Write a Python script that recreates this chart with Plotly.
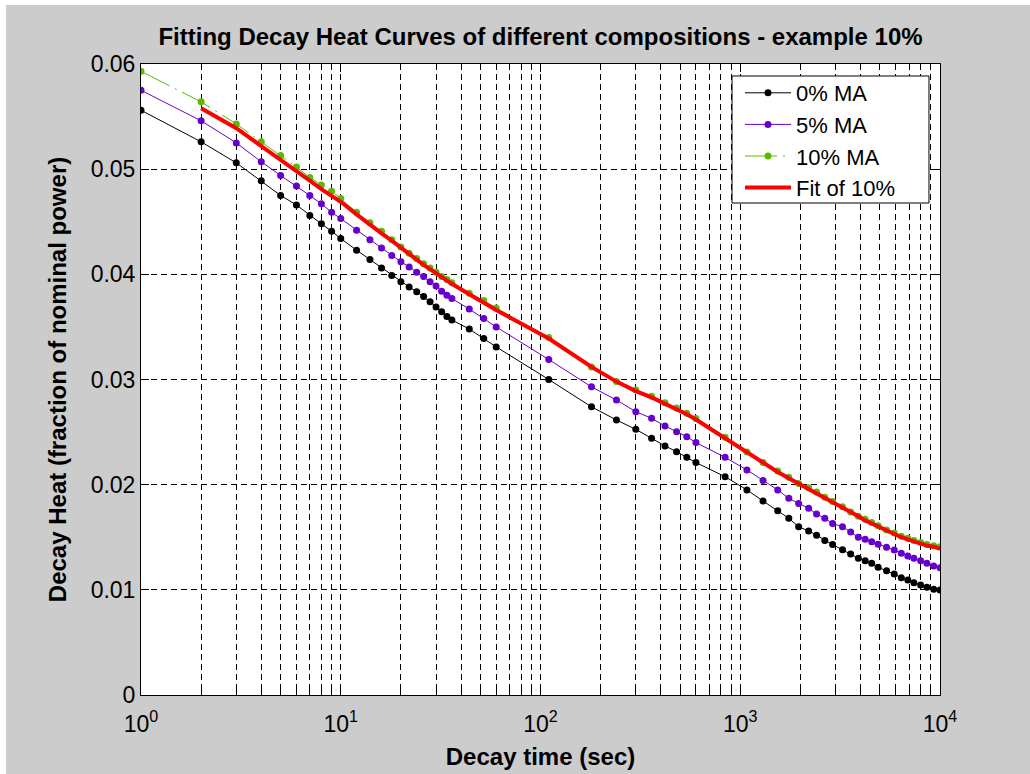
import plotly.graph_objects as go

# Decay times (s) shared by all three compositions
decay_time = [1, 2, 3, 4, 5, 6, 7, 8, 9, 10,
              12, 14, 16, 18, 20, 22, 24, 26, 28, 30, 32, 34, 36,
              44, 52, 60, 110,
              180, 240, 300, 360, 420, 480, 540, 600,
              840, 1080, 1300, 1540, 1750, 1960, 2200, 2410, 2650, 2900,
              3250, 3570, 3900, 4220, 4550, 4900, 5400, 5900, 6400, 6900,
              7400, 8000, 8600, 9300, 10000]

# Decay heat, fraction of nominal power
heat_0ma = [0.0556, 0.0526, 0.0506, 0.0489, 0.0475, 0.0466, 0.0456, 0.0448, 0.0441, 0.0434,
            0.0423, 0.0414, 0.0406, 0.0399, 0.0393, 0.0388, 0.03835, 0.0379, 0.0374, 0.0369,
            0.03645, 0.0360, 0.03566,
            0.0348, 0.0339, 0.0331, 0.0300,
            0.0274, 0.02615, 0.02526, 0.02441, 0.02368, 0.02314, 0.0226, 0.0221,
            0.02076, 0.0195, 0.01845, 0.01752, 0.0168, 0.0160, 0.0156, 0.0152, 0.0147, 0.0143,
            0.0138, 0.0134, 0.0130, 0.01277, 0.01252, 0.01214, 0.01182, 0.0115, 0.01115, 0.01093,
            0.01068, 0.01046, 0.01024, 0.01005, 0.00998]

heat_5ma = [0.0575, 0.0546, 0.0525, 0.0507, 0.0494, 0.0484, 0.0475, 0.0467, 0.0459, 0.0453,
            0.0442, 0.0433, 0.0425, 0.0418, 0.0412, 0.0407, 0.0402, 0.0398, 0.0393, 0.0389,
            0.0384, 0.0380, 0.0377,
            0.0367, 0.0358, 0.0350, 0.0319,
            0.0293, 0.02805, 0.02694, 0.02631, 0.02558, 0.02504, 0.02456, 0.0240,
            0.0226, 0.0214, 0.0204, 0.0195, 0.0187, 0.0182, 0.01775, 0.0172, 0.0168, 0.0163,
            0.0160, 0.0155, 0.0150, 0.0148, 0.01458, 0.01433, 0.01404, 0.01379, 0.01347, 0.01322,
            0.0130, 0.01277, 0.01252, 0.01227, 0.0121]

heat_10ma = [0.0593, 0.0564, 0.0543, 0.0526, 0.0513, 0.0502, 0.0492, 0.0485, 0.0479, 0.0472,
             0.0459, 0.0449, 0.0441, 0.0433, 0.0426, 0.0420, 0.0415, 0.0410, 0.0406, 0.0402,
             0.0398, 0.0395, 0.0392,
             0.0382, 0.0375, 0.0368, 0.0340,
             0.0312, 0.0298, 0.0290, 0.0284, 0.0278, 0.0273, 0.0268, 0.0263,
             0.0245, 0.0231, 0.0221, 0.0213, 0.0207, 0.0201, 0.0197, 0.0193, 0.0188, 0.0184,
             0.0179, 0.0174, 0.0170, 0.0167, 0.0164, 0.0161, 0.0157, 0.0154, 0.0151, 0.0149,
             0.0147, 0.0145, 0.0143, 0.0142, 0.0141]

# Fitted curve for the 10% composition (from t = 2 s onward)
fit_time = decay_time[1:]
fit_10ma = [0.0558, 0.0539, 0.0522, 0.0509, 0.0499, 0.0489, 0.0481, 0.0475, 0.0469,
            0.0457, 0.0447, 0.0439, 0.0432, 0.0425, 0.0419, 0.0414, 0.0409, 0.0405, 0.0401,
            0.0397, 0.0394, 0.0391,
            0.0381, 0.0373, 0.0366, 0.0339,
            0.0312, 0.0298, 0.0289, 0.0283, 0.0277, 0.0272, 0.0267, 0.0262,
            0.0244, 0.0230, 0.0220, 0.0212, 0.0206, 0.0201, 0.0196, 0.0192, 0.0188, 0.0184,
            0.0178, 0.0174, 0.0170, 0.0166, 0.0163, 0.0160, 0.0156, 0.0153, 0.0150, 0.0148,
            0.0146, 0.0144, 0.0142, 0.0141, 0.0139]

x_major = [1, 10, 100, 1000, 10000]
x_major_text = ["10<sup>0</sup>", "10<sup>1</sup>", "10<sup>2</sup>", "10<sup>3</sup>", "10<sup>4</sup>"]
x_minor = [m * d for d in (1, 10, 100, 1000) for m in range(2, 10)]
y_ticks = [0, 0.01, 0.02, 0.03, 0.04, 0.05, 0.06]
y_tick_text = ["0", "0.01", "0.02", "0.03", "0.04", "0.05", "0.06"]

FONT = "Liberation Sans, Arial, Helvetica, sans-serif"
GRID_DASH = "6px,4px"

fig = go.Figure()
fig.add_trace(go.Scatter(x=decay_time, y=heat_0ma, name="0% MA", mode="lines+markers",
                         line=dict(color="black", width=1),
                         marker=dict(color="black", size=7)))
fig.add_trace(go.Scatter(x=decay_time, y=heat_5ma, name="5% MA", mode="lines+markers",
                         line=dict(color="#6600CC", width=1),
                         marker=dict(color="#6600CC", size=7)))
fig.add_trace(go.Scatter(x=decay_time, y=heat_10ma, name="10% MA", mode="lines+markers",
                         line=dict(color="#5CB800", width=1, dash="32px,6px,2px,6px"),
                         marker=dict(color="#5CB800", size=7)))
fig.add_trace(go.Scatter(x=fit_time, y=fit_10ma, name="Fit of 10%", mode="lines",
                         line=dict(color="#FF0000", width=4)))

axis_common = dict(
    showline=True, linecolor="black", linewidth=1, mirror="ticks",
    ticks="inside", ticklen=8, tickwidth=1, tickcolor="black",
    showgrid=True, gridcolor="black", gridwidth=1, griddash=GRID_DASH,
    zeroline=False, automargin=False,
    tickfont=dict(family=FONT, size=23, color="black"),
)

fig.update_xaxes(
    type="log", range=[0, 4],
    tickmode="array", tickvals=x_major, ticktext=x_major_text,
    ticklabelstandoff=8,
    minor=dict(tickmode="array", tickvals=x_minor, ticks="inside", ticklen=5,
               tickcolor="black", showgrid=True, gridcolor="black", gridwidth=1,
               griddash=GRID_DASH),
    title=dict(text="Decay time (sec)", standoff=12,
               font=dict(family=FONT, size=24, color="black", weight="bold")),
    **axis_common,
)
fig.update_yaxes(
    range=[0, 0.06],
    tickmode="array", tickvals=y_ticks, ticktext=y_tick_text,
    title=dict(text="Decay Heat (fraction of nominal power)", standoff=17,
               font=dict(family=FONT, size=24, color="black", weight="bold")),
    **axis_common,
)

# Figure frame: light border at top and left, legend box
fig.add_shape(type="rect", xref="paper", yref="paper", x0=-0.3, x1=1.3, y0=1.0935, y1=1.3,
              fillcolor="white", line=dict(width=0), layer="below")
fig.add_shape(type="rect", xref="paper", yref="paper", x0=-0.3, x1=-0.169, y0=-0.3, y1=1.3,
              fillcolor="white", line=dict(width=0), layer="below")
fig.add_shape(type="rect", xref="paper", yref="paper", x0=0.7397, x1=0.9862, y0=0.7797, y1=0.981,
              fillcolor="white", line=dict(color="black", width=1), layer="above")

fig.update_layout(
    width=1030, height=774,
    margin=dict(l=141, r=90, t=64, b=79, pad=0, autoexpand=False),
    paper_bgcolor="#CCCCCC", plot_bgcolor="white",
    title=dict(text="Fitting Decay Heat Curves of different compositions - example 10%",
               x=0.5, xref="paper", xanchor="center",
               y=(774 - 37) / 774, yref="container", yanchor="middle",
               font=dict(family=FONT, size=24, color="black", weight="bold")),
    legend=dict(x=(740 - 141) / 799, y=(695 - 72) / 631, xanchor="left", yanchor="top",
                bgcolor="rgba(0,0,0,0)", borderwidth=0, itemwidth=46,
                font=dict(family=FONT, size=22, color="black"), tracegroupgap=0),
    showlegend=True,
)

fig.write_html("out.html", config={"displayModeBar": False})
